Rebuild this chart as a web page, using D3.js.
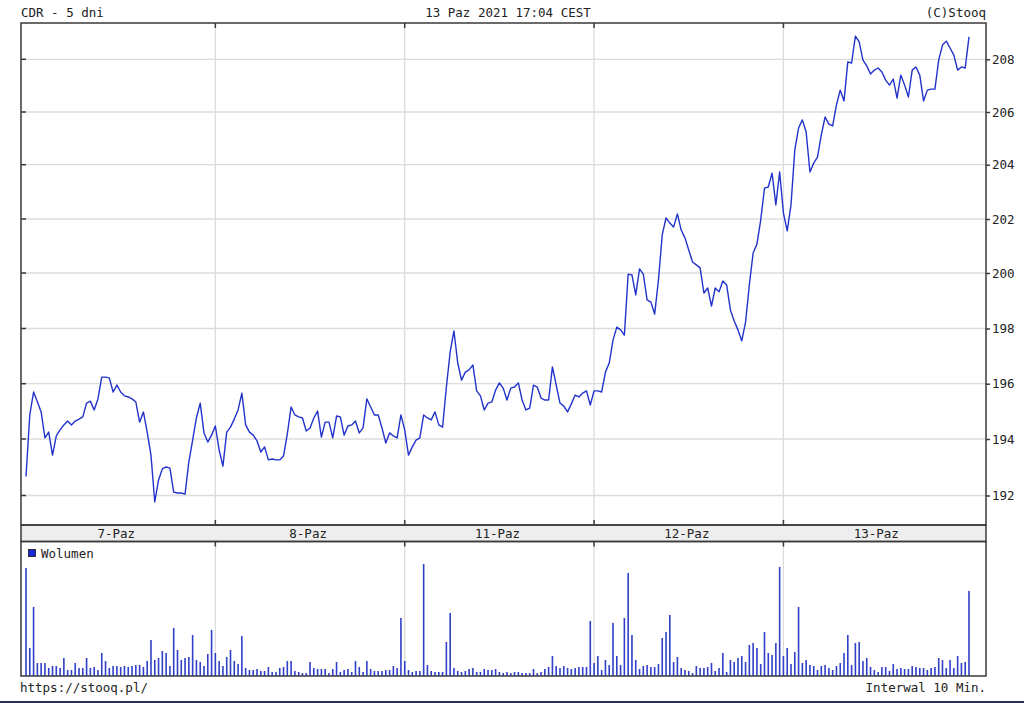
<!DOCTYPE html>
<html><head><meta charset="utf-8">
<script src="https://cdn.jsdelivr.net/npm/d3@7"></script>
<style>
body{margin:0;background:#fff}
svg{display:block}
text{font-family:"DejaVu Sans Mono",monospace;font-size:12.5px;fill:#222}
</style>
</head><body><svg id="c" width="1024" height="703"></svg>
<script>
// ---- data ----
const days = ["7-Paz", "8-Paz", "11-Paz", "12-Paz", "13-Paz"];
const priceTicks = [192, 194, 196, 198, 200, 202, 204, 206, 208];

const price7 = [192.67,194.87,195.70,195.35,194.98,194.04,194.25,193.43,194.11,194.33,
 194.51,194.65,194.51,194.65,194.72,194.80,195.30,195.37,195.05,195.45,
 196.24,196.24,196.21,195.70,195.95,195.70,195.56,195.52,195.45,195.34,
 194.61,194.98,194.25,193.43,191.77,192.55,192.94,193.01,192.97,192.12,
 192.09,192.09,192.05,193.19,193.96,194.76,195.30,194.22,193.89,194.14];
const price8 = [194.47,193.61,193.04,194.25,194.43,194.72,195.05,195.66,194.51,194.25,
 194.14,193.93,193.54,193.72,193.26,193.29,193.26,193.26,193.40,194.18,
 195.16,194.87,194.80,194.76,194.29,194.40,194.76,195.01,194.07,194.61,
 194.61,194.04,194.83,194.80,194.14,194.47,194.51,194.65,194.22,194.40,
 195.45,195.16,194.87,194.87,194.40,193.86,194.22,194.11,194.04,194.87];
const price11 = [194.33,193.43,193.72,193.96,194.04,194.87,194.76,194.69,194.98,194.51,
 194.43,195.88,197.15,197.91,196.75,196.13,196.42,196.50,196.68,195.74,
 195.56,195.05,195.30,195.34,195.77,196.03,195.84,195.41,195.84,195.88,
 196.03,195.41,195.05,195.12,195.95,195.88,195.48,195.41,195.41,196.61,
 195.95,195.30,195.19,194.98,195.27,195.59,195.52,195.66,195.74,195.23];
const price12 = [195.74,195.74,195.70,196.42,196.75,197.58,198.05,197.95,197.76,199.96,
 199.93,199.21,200.15,199.96,199.03,198.95,198.52,199.75,201.41,202.04,
 201.85,201.70,202.19,201.59,201.30,200.85,200.41,200.30,200.19,199.28,
 199.46,198.81,199.46,199.32,199.71,199.57,198.67,198.27,197.95,197.55,
 198.23,199.57,200.74,201.07,201.96,203.14,203.18,203.69,202.52,203.73];
const price13 = [202.22,201.56,202.52,204.56,205.39,205.70,205.24,203.73,204.06,204.29,
 205.13,205.81,205.54,205.47,206.27,206.83,206.42,207.90,207.86,208.88,
 208.66,207.97,207.75,207.44,207.59,207.67,207.52,207.21,207.02,207.25,
 206.53,207.40,207.02,206.57,207.59,207.71,207.40,206.42,206.83,206.87,
 206.87,207.97,208.54,208.69,208.43,208.16,207.59,207.71,207.67,208.85];

const vol7 = [32400,8400,20700,3900,3900,3900,2400,3000,3000,2400,
 5400,1800,1800,3900,2400,2400,5400,2400,2700,1800,
 6900,4500,2400,3000,3000,2700,3000,2700,3000,3300,
 3300,2700,4500,10800,4800,5400,7500,6900,3000,14400,
 7800,4800,5400,5700,12300,4800,4200,3000,6600,13800];
const vol8 = [6900,4500,3000,5700,7800,4500,3600,12000,2400,1800,
 1800,2100,1500,1500,2700,1200,1200,2400,2700,4500,
 4500,1500,1200,900,900,4200,2400,2100,2100,2100,
 900,2100,4200,1200,1800,2100,1200,4500,2700,1200,
 4500,2100,1500,1500,1500,1800,1800,3000,2400,17400];
const vol11 = [4500,1800,1200,1500,1500,33600,3300,1500,1200,1200,
 1200,10200,18900,2400,1500,1200,1500,2100,2400,1200,
 1200,2100,1800,1800,2100,1200,900,1200,900,1200,
 1200,900,900,900,2100,900,1200,2100,2700,6000,
 3000,2400,3000,2400,2100,2400,2700,2700,2700,16500];
const vol12 = [3900,6000,1800,4800,3300,15900,6000,3300,17400,30900,
 12300,4800,2100,3000,3300,2700,2700,3600,11400,13200,
 18300,4200,5700,2400,1800,1500,900,3000,2400,2400,
 2700,3900,1500,2400,6900,1200,4800,4200,5400,6000,
 4200,9300,9900,8400,3600,13200,6900,6300,9900,32700];
const vol13 = [6000,8400,3600,7200,20700,3900,4800,3300,3000,1800,
 3000,3300,2400,1800,3000,3900,6900,12300,3300,9900,
 10200,4500,5400,2700,1800,1200,2700,2700,1500,3600,
 2100,2400,2100,2100,3000,2700,2400,2400,1800,2400,
 2700,5400,4800,2400,4800,2400,6000,3900,4200,25500];

// ---- layout ----
const prices = [].concat(price7, price8, price11, price12, price13);
const volumes = [].concat(vol7, vol8, vol11, vol12, vol13);
const perDay = price7.length;
const L = 21, R = 986, T = 23, PB = 525, BB = 541.5, VB = 676;
const lineColor = "#2233cc", barColor = "#3040c8", frameColor = "#3a3a3a", gridColor = "#dcdcdc";

const svg = d3.select("#c");
const x = d3.scaleLinear().domain([0, prices.length - 1]).range([26, 969]);
const y = d3.scaleLinear().domain(priceTicks)
  .range([495.5, 439, 383.7, 328.5, 273, 219, 164.7, 112, 59.3]);
const v = d3.scaleLinear().domain([0, d3.max(volumes) * 1.2]).range([VB, BB]);

const boundaries = days.slice(1).map((d, k) => x((k + 1) * perDay));

// gridlines
svg.append("g").selectAll("line").data(priceTicks).join("line")
  .attr("x1", L).attr("x2", R).attr("y1", d => y(d)).attr("y2", d => y(d))
  .attr("stroke", gridColor).attr("stroke-width", 1.3);
svg.append("g").selectAll("line").data(boundaries).join("line")
  .attr("x1", d => d).attr("x2", d => d).attr("y1", T).attr("y2", PB)
  .attr("stroke", gridColor).attr("stroke-width", 1.3);
svg.append("g").selectAll("line").data(boundaries).join("line")
  .attr("x1", d => d).attr("x2", d => d).attr("y1", BB).attr("y2", VB)
  .attr("stroke", gridColor).attr("stroke-width", 1.3);

// price line
svg.append("path").datum(prices)
  .attr("fill", "none").attr("stroke", lineColor).attr("stroke-width", 1.4)
  .attr("stroke-linejoin", "round")
  .attr("d", d3.line().x((d, i) => x(i)).y(d => y(d)));

// date band
svg.append("rect").attr("x", L).attr("y", PB).attr("width", R - L).attr("height", BB - PB)
  .attr("fill", "#eeeeee");
svg.append("g").selectAll("text").data(days).join("text")
  .attr("x", (d, k) => {
    const a = k === 0 ? L : x(k * perDay), b = x(k * perDay + perDay - 1);
    return (a + b) / 2;
  })
  .attr("y", 538).attr("text-anchor", "middle").text(d => d);

// volume bars
svg.append("g").selectAll("rect").data(volumes).join("rect")
  .attr("x", (d, i) => x(i) - 0.8).attr("width", 1.6)
  .attr("y", d => v(d)).attr("height", d => VB - v(d))
  .attr("fill", barColor);

// legend
svg.append("rect").attr("x", 28.5).attr("y", 549.5).attr("width", 7).attr("height", 7)
  .attr("fill", "#1a2ad8").attr("stroke", "#111").attr("stroke-width", 0.8);
svg.append("text").attr("x", 41).attr("y", 558).text("Wolumen");

// frames
const frame = svg.append("g").attr("fill", "none").attr("stroke", frameColor).attr("stroke-width", 1.5);
frame.append("rect").attr("x", L).attr("y", T).attr("width", R - L).attr("height", PB - T);
frame.append("rect").attr("x", L).attr("y", PB).attr("width", R - L).attr("height", BB - PB);
frame.append("rect").attr("x", L).attr("y", BB).attr("width", R - L).attr("height", VB - BB);

// ticks
const tk = svg.append("g").attr("stroke", frameColor).attr("stroke-width", 1.5);
boundaries.forEach(bx => {
  tk.append("line").attr("x1", bx).attr("x2", bx).attr("y1", T).attr("y2", T + 5);
  tk.append("line").attr("x1", bx).attr("x2", bx).attr("y1", PB - 5).attr("y2", PB);
  tk.append("line").attr("x1", bx).attr("x2", bx).attr("y1", BB).attr("y2", BB + 5);
});
priceTicks.forEach(p => {
  tk.append("line").attr("x1", L).attr("x2", L + 5).attr("y1", y(p)).attr("y2", y(p));
});

// right axis
const axis = svg.append("g").attr("transform", `translate(${R},0)`)
  .call(d3.axisRight(y).tickValues(priceTicks).tickSize(4).tickPadding(2).tickFormat(d3.format("d")));
axis.select(".domain").remove();
axis.selectAll("line").attr("stroke", frameColor).attr("stroke-width", 1.5);
axis.selectAll("text").style("font-family", '"DejaVu Sans Mono",monospace').style("font-size", "12.5px").attr("fill", "#222");

// header/footer texts
svg.append("text").attr("x", 21).attr("y", 17).text("CDR - 5 dni");
svg.append("text").attr("x", 508).attr("y", 17).attr("text-anchor", "middle").text("13 Paz 2021 17:04 CEST");
svg.append("text").attr("x", 986).attr("y", 17).attr("text-anchor", "end").text("(C)Stooq");
svg.append("text").attr("x", 20).attr("y", 692).text("https://stooq.pl/");
svg.append("text").attr("x", 986).attr("y", 692).attr("text-anchor", "end").text("Interwal 10 Min.");

// bottom rule
svg.append("rect").attr("x", 0).attr("y", 701).attr("width", 1024).attr("height", 2).attr("fill", "#2b3157");
</script>
</body></html>
